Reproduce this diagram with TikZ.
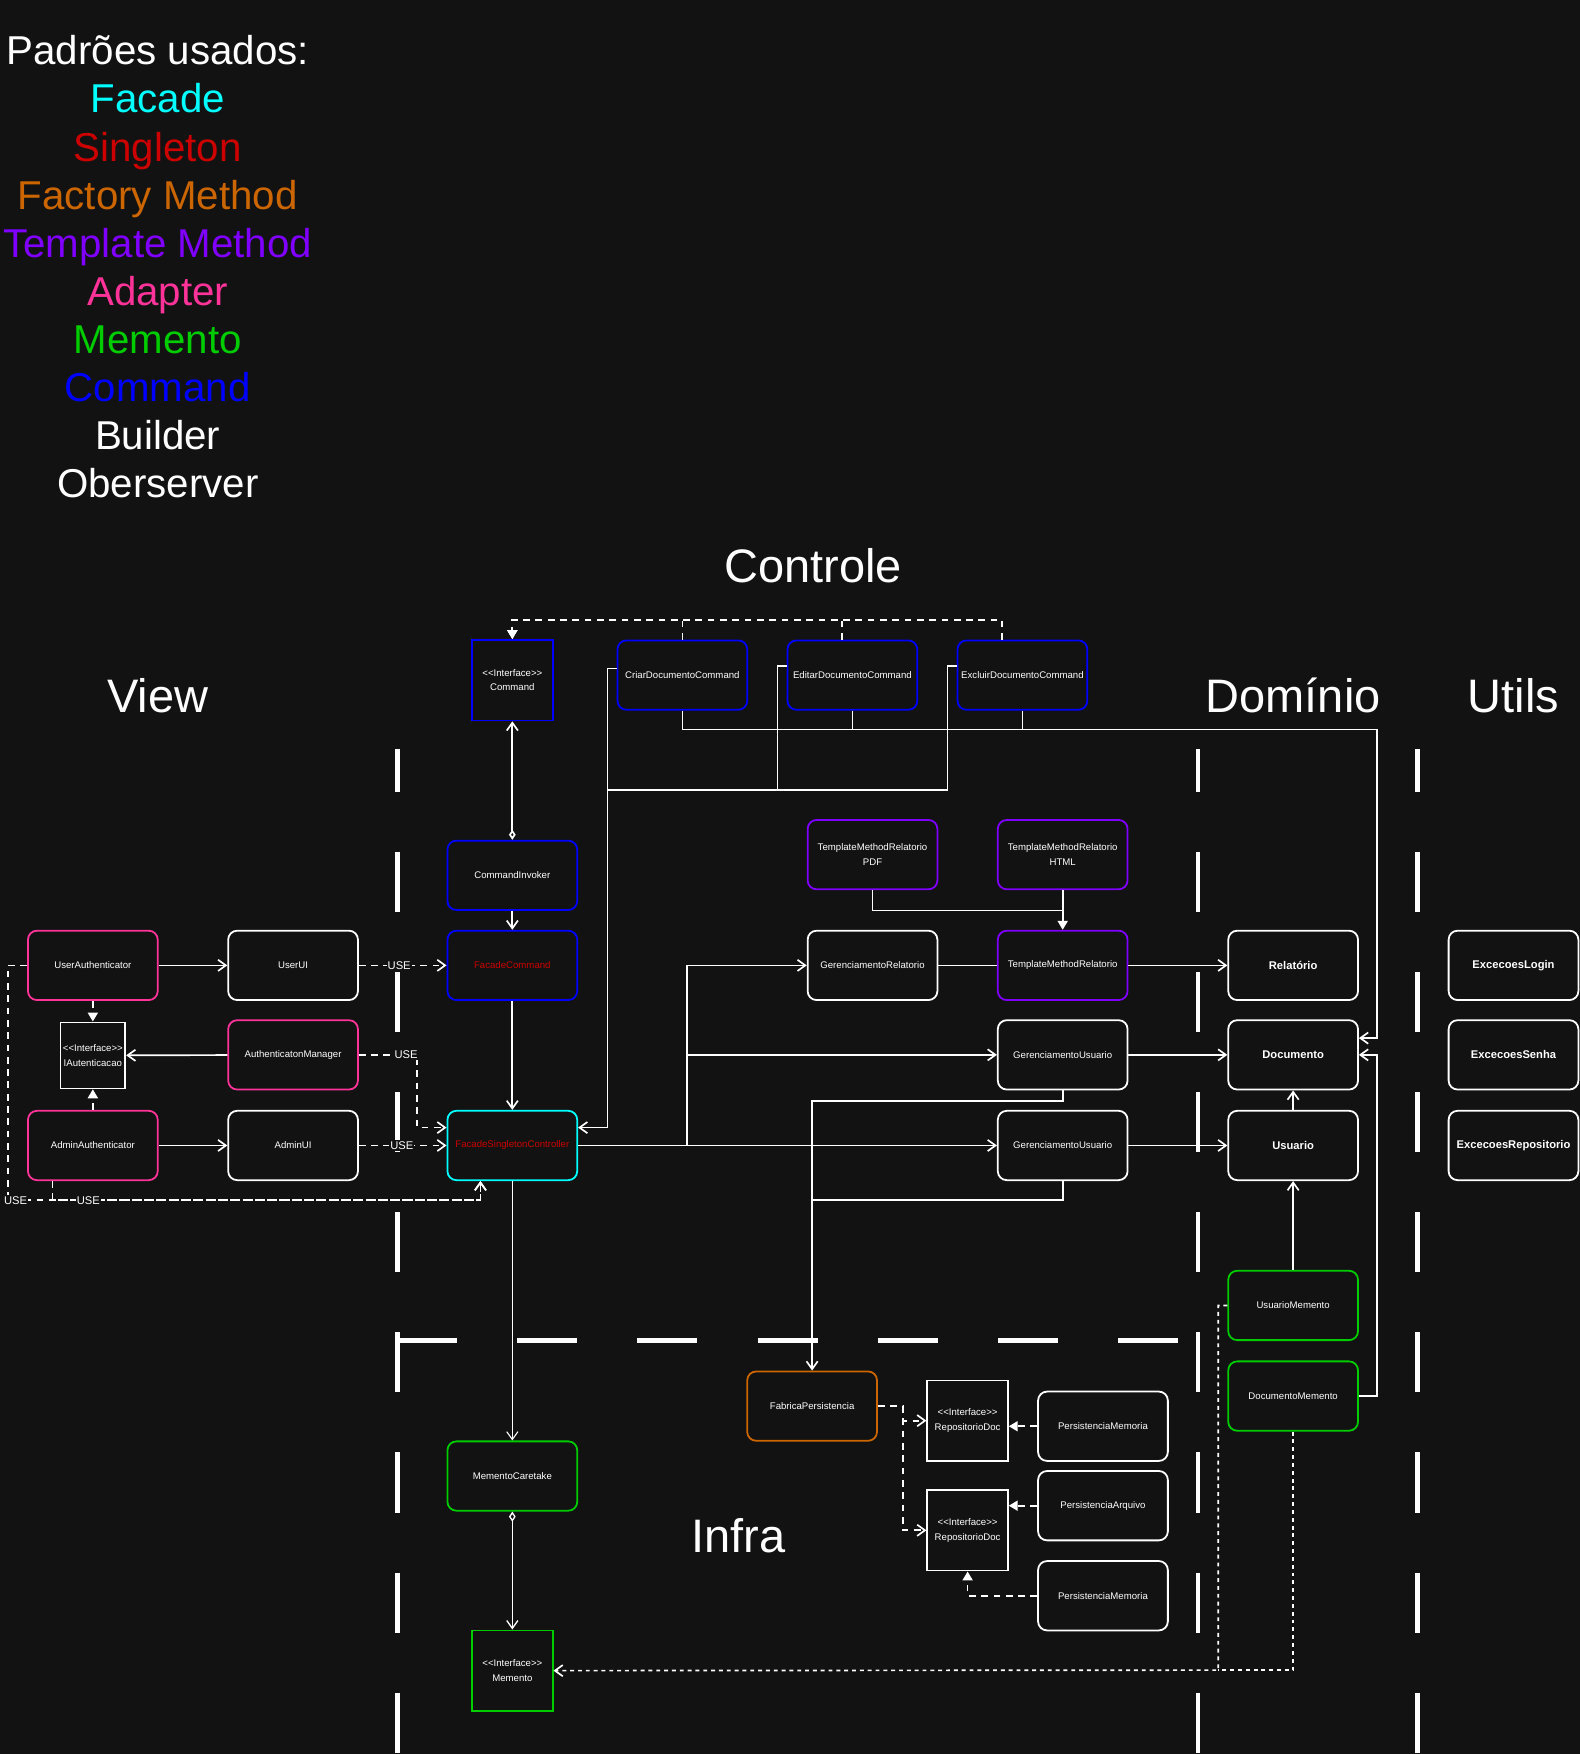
\documentclass[tikz,border=0pt]{standalone}
\usepackage{fontspec}
\setmainfont{Liberation Sans}
\usetikzlibrary{arrows.meta}

\definecolor{bgcol}{HTML}{121212}
\definecolor{facadecol}{HTML}{00FFFF}
\definecolor{singlecol}{HTML}{CC0000}
\definecolor{factorycol}{HTML}{CC6600}
\definecolor{templatecol}{HTML}{7F00FF}
\definecolor{adaptercol}{HTML}{FF3399}
\definecolor{mementocol}{HTML}{00CC00}
\definecolor{commandcol}{HTML}{0000FF}

\newcommand{\ifacetag}{\textless{}\textless{}Interface\textgreater{}\textgreater{}}

\begin{document}
\begin{tikzpicture}[x=1pt, y=-1pt,
    every node/.style={text=white},
    legend/.style={font=\fontsize{36}{43}\selectfont, inner sep=0pt,
                   text height=26pt, text depth=0pt},
    area/.style={font=\fontsize{42}{50}\selectfont, inner sep=0pt,
                 text height=30pt, text depth=0pt},
    box/.style={draw=white, fill=bgcol, line width=1.6pt, rounded corners=8pt,
                minimum width=116pt, minimum height=62pt, inner sep=1pt,
                align=center, font=\fontsize{8.6}{13}\selectfont},
    dombox/.style={box, font=\fontsize{10}{12}\selectfont\bfseries},
    iface/.style={box, sharp corners, minimum width=72pt, minimum height=72pt},
    conn/.style={draw=white, line width=1.5pt, -{Straight Barb[length=7pt,width=10pt]}},
    thinconn/.style={conn, line width=1pt},
    dep/.style={conn, dash pattern=on 6pt off 5pt},
    dotdep/.style={conn, dash pattern=on 3.5pt off 3.5pt},
    real/.style={draw=white, line width=1.5pt, dash pattern=on 6pt off 5pt,
                 -{Triangle[length=8pt,width=9pt]}},
    agg/.style={conn, {Diamond[open,length=9pt,width=6pt]}-{Straight Barb[length=7pt,width=10pt]}},
    wire/.style={draw=white, line width=1.5pt},
    use/.style={fill=bgcol, inner sep=1pt, font=\fontsize{10}{12}\selectfont},
    sep/.style={draw=white, line width=4.3pt, dash pattern=on 53.7pt off 53.7pt}
  ]

  \fill[bgcol] (0,0) rectangle (1412,1568);
  \useasboundingbox (0,0) rectangle (1412,1568);

  \node[legend] (padroes) at (141,45) {Padrões usados:};
  \foreach \nome/\cor [count=\i] in {Facade/facadecol, Singleton/singlecol,
      Factory Method/factorycol, Template Method/templatecol, Adapter/adaptercol,
      Memento/mementocol, Command/commandcol, Builder/white, Oberserver/white}
    \node[legend, text=\cor] (leg\i) at (141,45+43*\i) {\nome};

  \node[area] (tview) at (141,622) {View};
  \node[area] (tcontrole) at (727,506) {Controle};
  \node[area] (tdominio) at (1156,622) {Domínio};
  \node[area] (tutils) at (1353,622) {Utils};
  \node[area] (tinfra) at (660,1373) {Infra};

  \foreach \xs in {355,1071,1267}
    \draw[sep, dash phase=16pt] (\xs,670) -- (\xs,1568);
  \draw[sep] (355,1198) -- (1053,1198);

  % View
  \node[box, draw=adaptercol] (userauth) at (83,863) {UserAuthenticator};
  \node[box] (userui) at (262,863) {UserUI};
  \node[iface, minimum width=58pt, minimum height=59pt] (iautent) at (83,943.5) {\ifacetag\\IAutenticacao};
  \node[box, draw=adaptercol] (authmgr) at (262,943) {AuthenticatonManager};
  \node[box, draw=adaptercol] (adminauth) at (83,1024) {AdminAuthenticator};
  \node[box] (adminui) at (262,1024) {AdminUI};

  % Controle
  \node[iface, draw=commandcol] (icommand) at (458,608) {\ifacetag\\Command};
  \node[box, draw=commandcol] (criar) at (610,603.5) {CriarDocumentoCommand};
  \node[box, draw=commandcol] (editar) at (762,603.5) {EditarDocumentoCommand};
  \node[box, draw=commandcol] (excluir) at (914,603.5) {ExcluirDocumentoCommand};
  \node[box, draw=commandcol] (invoker) at (458,782.5) {CommandInvoker};
  \node[box, draw=commandcol, text=singlecol] (facadecmd) at (458,863) {FacadeCommand};
  \node[box, draw=facadecol, text=singlecol] (facade) at (458,1024) {FacadeSingletonController};
  \node[box, draw=templatecol] (tmpdf) at (780,764) {TemplateMethodRelatorio\\PDF};
  \node[box, draw=templatecol] (tmhtml) at (950,764) {TemplateMethodRelatorio\\HTML};
  \node[box] (gerrel) at (780,863) {GerenciamentoRelatorio};
  \node[box, draw=templatecol] (tmrel) at (950,863) {TemplateMethodRelatorio};
  \node[box] (gerusu1) at (950,943) {GerenciamentoUsuario};
  \node[box] (gerusu2) at (950,1024) {GerenciamentoUsuario};

  % Dominio / Utils
  \node[dombox] (relatorio) at (1156,863) {Relatório};
  \node[dombox] (documento) at (1156,943) {Documento};
  \node[dombox] (usuario) at (1156,1024) {Usuario};
  \node[box, draw=mementocol] (usumem) at (1156,1167) {UsuarioMemento};
  \node[box, draw=mementocol] (docmem) at (1156,1248) {DocumentoMemento};
  \node[dombox] (exclogin) at (1353,863) {ExcecoesLogin};
  \node[dombox] (excsenha) at (1353,943) {ExcecoesSenha};
  \node[dombox] (excrepo) at (1353,1024) {ExcecoesRepositorio};

  % Infra
  \node[box, draw=factorycol] (fabrica) at (726,1257) {FabricaPersistencia};
  \node[iface] (repo1) at (865,1270) {\ifacetag\\RepositorioDoc};
  \node[iface] (repo2) at (865,1368) {\ifacetag\\RepositorioDoc};
  \node[box] (permem1) at (986,1275) {PersistenciaMemoria};
  \node[box] (perarq) at (986,1346) {PersistenciaArquivo};
  \node[box] (permem2) at (986,1426.5) {PersistenciaMemoria};
  \node[box, draw=mementocol] (caretake) at (458,1319.5) {MementoCaretake};
  \node[iface, draw=mementocol] (imemento) at (458,1493.5) {\ifacetag\\Memento};

  \coordinate (cmdtop) at (458,554);
  \coordinate (rbus) at (1231,652);
  \coordinate (lbus) at (543,706);
  \coordinate (fbus) at (614,1024);
  \coordinate (tmj) at (950,814);
  \coordinate (fj) at (726,984);
  \coordinate (mj) at (1089,1493);
  \coordinate (fr) at (807,1257);

  \draw[conn] (userauth) -- (userui);
  \draw[conn] (adminauth) -- (adminui);
  \draw[conn] (authmgr) -- (iautent);
  \draw[real] (userauth) -- (iautent);
  \draw[real] (adminauth) -- (iautent);
  \draw[dep] (userui) -- node[use, pos=0.46] (use1) {USE} (facadecmd);
  \draw[dep] (adminui) -- node[use, pos=0.49] (use2) {USE} (facade);
  \draw[dep] (authmgr) -- node[use, pos=0.81] (use3) {USE} (373,943)
    |- ([yshift=16pt]facade.west);
  \draw[dep] (userauth.west) -| (7,1073) -| ([xshift=-28.5pt]facade.south);
  \draw[dep] ([xshift=-36pt]adminauth.south) |- (80,1073) -| ([xshift=-28.5pt]facade.south);
  \node[use] (use4) at (14,1073) {USE};
  \node[use] (use5) at (79,1073) {USE};

  \draw[conn] (invoker) -- (facadecmd);
  \draw[conn] (facadecmd) -- (facade);
  \draw[agg] (invoker) -- (icommand);

  \draw[real] (criar.north) |- (cmdtop) -- (icommand);
  \draw[real] ([xshift=-9pt]editar.north) |- (cmdtop) -- (icommand);
  \draw[real] ([xshift=-18pt]excluir.north) |- (cmdtop) -- (icommand);

  \draw[conn] (criar.south) |- (rbus) |- ([yshift=15pt]documento.east);
  \draw[wire] (editar.south) -- (editar.south |- rbus);
  \draw[wire] (excluir.south) -- (excluir.south |- rbus);

  \draw[conn] ([yshift=6pt]criar.west) -| (lbus) |- ([yshift=16pt]facade.east);
  \draw[wire] ([yshift=8pt]editar.west) -| (695,706);
  \draw[wire] ([yshift=8pt]excluir.west) -| (847,706) -- (lbus);

  \draw[conn] (facade) -- (gerusu2);
  \draw[conn] (fbus) |- (gerrel);
  \draw[conn] (fbus) |- (gerusu1);
  \draw[wire, line width=1pt] (gerrel) -- (tmrel);
  \draw[wire] (tmpdf) |- (tmj);
  \draw[real, solid] (tmhtml) -- (tmrel);

  \draw[conn] (tmrel) -- (relatorio);
  \draw[conn] (gerusu1) -- (documento);
  \draw[conn] (gerusu2) -- (usuario);
  \draw[conn] (usuario) -- (documento);
  \draw[conn] (usumem) -- (usuario);
  \draw[conn] (docmem.east) -- (1231,1248) |- (documento.east);

  \draw[conn] (gerusu1) |- (fj) -- (fabrica);
  \draw[wire] (gerusu2) |- (726,1073);

  \draw[thinconn] (facade) -- (caretake);
  \draw[agg, line width=1.2pt] (caretake) -- (imemento);
  \draw[dotdep] (usumem.west) -| (mj) -- (imemento);
  \draw[dotdep, -] (docmem) |- (mj);

  \draw[dep] (fabrica) -- (fr) |- (repo1);
  \draw[dep] (fr) |- (repo2);
  \draw[real] (permem1) -- (permem1 -| repo1.east);
  \draw[real] (perarq) -- (perarq -| repo2.east);
  \draw[real] (permem2) -| (repo2);
\end{tikzpicture}
\end{document}
